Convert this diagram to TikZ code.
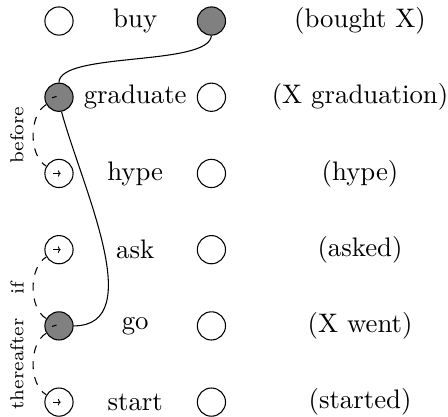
\documentclass[tikz,border=0pt]{standalone}
\usetikzlibrary{arrows.meta,positioning}

\begin{document}
\begin{tikzpicture}[
  on grid, node distance=1cm,
  ev/.style={draw, circle, minimum size=3.7mm, inner sep=0pt},
  act/.style={ev, fill=gray},
  rel/.style={dashed, looseness=0.85},
  lab/.style={font=\scriptsize, rotate=90, anchor=south},
  tip/.style={-{To[length=1pt,width=2.4pt]}, line width=0.35pt}
]
\useasboundingbox (-0.774,0.276) rectangle (5.104,-5.195);
% row: buy
\node[ev] (buyL) {};
\node[right=of buyL] (buy) {buy};
\node[act, right=of buy] (buyR) {};
\node[right=1.95cm of buyR] (buyG) {(bought X)};
% row: graduate
\node[act, below=of buyL] (gradL) {};
\node[right=of gradL] (grad) {graduate};
\node[ev, right=of grad] (gradR) {};
\node[right=1.95cm of gradR] (gradG) {(X graduation)};
% row: hype
\node[ev, below=of gradL] (hypeL) {};
\node[right=of hypeL] (hype) {hype};
\node[ev, right=of hype] (hypeR) {};
\node[right=1.95cm of hypeR] (hypeG) {(hype)};
% row: ask
\node[ev, below=of hypeL] (askL) {};
\node[right=of askL] (ask) {ask};
\node[ev, right=of ask] (askR) {};
\node[right=1.95cm of askR] (askG) {(asked)};
% row: go
\node[act, below=of askL] (goL) {};
\node[right=of goL] (go) {go};
\node[ev, right=of go] (goR) {};
\node[right=1.95cm of goR] (goG) {(X went)};
% row: start
\node[ev, below=of goL] (startL) {};
\node[right=of startL] (start) {start};
\node[ev, right=of start] (startR) {};
\node[right=1.95cm of startR] (startG) {(started)};

% marks inside the circles
\draw ([shift={(-2.6pt,-0.2pt)}]gradL.center) -- ([shift={(-0.9pt,0.3pt)}]gradL.center);
\draw ([shift={(-2.6pt,-0.2pt)}]goL.center) -- ([shift={(-0.9pt,0.3pt)}]goL.center);
\draw[tip] ([xshift=-2.2pt]hypeL.center) -- ([xshift=0.6pt]hypeL.center);
\draw[tip] ([xshift=-2.2pt]askL.center) -- ([xshift=0.6pt]askL.center);
\draw[tip] ([xshift=-2.2pt]startL.center) -- ([xshift=0.6pt]startL.center);

% links
\draw (buyR.south) to[out=-95, in=90, looseness=0.5] (gradL.north);
\draw (gradL.-80) to[out=-75, in=0, looseness=0.9] (goL.east);
\draw[rel] (gradL.210) to[out=210, in=150] node[lab] {before} (hypeL.150);
\draw[rel] (goL.150) to[out=150, in=210] node[lab] {if} (askL.210);
\draw[rel] (goL.210) to[out=210, in=150] node[lab] {thereafter} (startL.150);
\end{tikzpicture}
\end{document}
